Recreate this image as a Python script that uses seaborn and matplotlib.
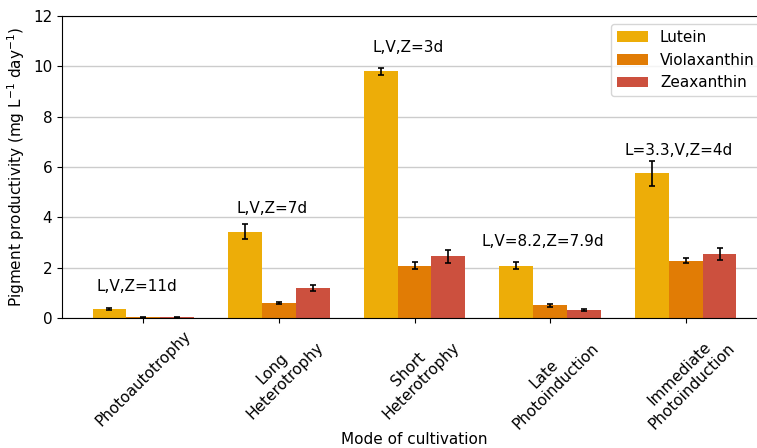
"""
Pigment productivity by mode of cultivation
"""
import pandas as pd
import numpy as np
import matplotlib
matplotlib.use('Agg')
import matplotlib.pyplot as plt
import seaborn as sns

modes = ['Photoautotrophy', 'Long\nHeterotrophy', 'Short\nHeterotrophy',
         'Late\nPhotoinduction', 'Immediate\nPhotoinduction']
pigments = ['Lutein', 'Violaxanthin', 'Zeaxanthin']

lutein = [0.35, 3.42, 9.80, 2.08, 5.75]
lutein_err = [0.05, 0.30, 0.15, 0.15, 0.50]
violaxanthin = [0.03, 0.60, 2.08, 0.50, 2.28]
violaxanthin_err = [0.02, 0.05, 0.15, 0.05, 0.10]
zeaxanthin = [0.02, 1.18, 2.45, 0.32, 2.55]
zeaxanthin_err = [0.01, 0.12, 0.25, 0.03, 0.25]

labels = ['L,V,Z=11d', 'L,V,Z=7d', 'L,V,Z=3d', 'L,V=8.2,Z=7.9d', 'L=3.3,V,Z=4d']
label_y = [1.27, 4.37, 10.75, 3.02, 6.67]

colors = ['#EDAD08', '#E17C05', '#CC503E']

df = pd.DataFrame({
    'mode': np.repeat(modes, 3),
    'pigment': pigments * len(modes),
    'value': np.ravel(np.column_stack([lutein, violaxanthin, zeaxanthin])),
    'err': np.ravel(np.column_stack([lutein_err, violaxanthin_err, zeaxanthin_err])),
})

plt.rcParams['font.family'] = ['DejaVu Sans']

W, H = 757, 448
left, right, top, bottom = 62, 767, 16, 318
fig = plt.figure(figsize=(W / 100, H / 100), dpi=100)
ax = fig.add_axes([left / W, 1 - bottom / H, (right - left) / W, (bottom - top) / H])

bar_w = 0.75
sns.barplot(data=df, x='mode', y='value', hue='pigment', order=modes,
            hue_order=pigments, palette=colors, width=bar_w, errorbar=None,
            saturation=1, linewidth=0, ax=ax, zorder=2)

# Планки погрешностей по центрам столбцов
for j, pig in enumerate(pigments):
    sub = df[df['pigment'] == pig]
    xs = np.arange(len(modes)) + (j - 1) * bar_w / 3
    ax.errorbar(xs, sub['value'].values, yerr=sub['err'].values, fmt='none',
                ecolor='black', elinewidth=1.2, capsize=2.5, capthick=1.2, zorder=3)

# Подписи над группами
for i, (txt, yy) in enumerate(zip(labels, label_y)):
    ax.text(i - 0.05, yy, txt, ha='center', va='center', fontsize=11)

ax.set_ylim(0, 12)
ax.set_xlim(-0.6, 4.6)
ax.set_yticks(range(0, 13, 2))
ax.yaxis.grid(True, color='#cccccc', linewidth=1, zorder=0)
ax.set_axisbelow(True)
ax.tick_params(axis='both', labelsize=11)
ax.set_xticks(range(len(modes)))
ax.set_xticklabels(modes, rotation=45, ha='center')
ax.set_xlabel('Mode of cultivation', fontsize=11, labelpad=0)
ax.set_ylabel('Pigment productivity (mg L$^{-1}$ day$^{-1}$)', fontsize=11)

ax.legend(loc='upper left', bbox_to_anchor=((611 - left) / (right - left), 1 - 8 / (bottom - top)),
          fontsize=11, frameon=True, title=None, borderaxespad=0)

fig.savefig('out.png', dpi=100)
